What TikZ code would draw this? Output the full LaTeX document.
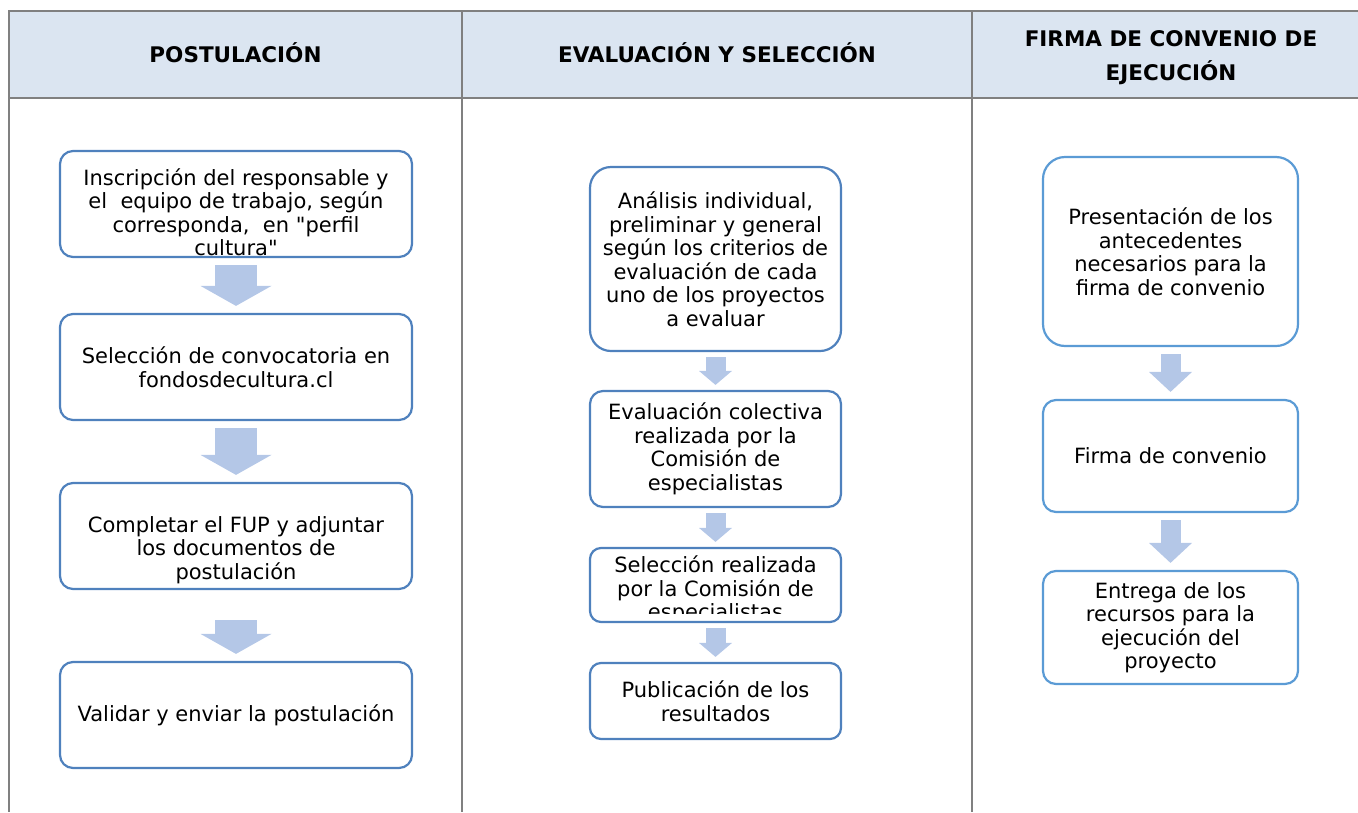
\documentclass[tikz,border=0pt]{standalone}
\usepackage{fontspec}
\setmainfont{DejaVu Sans}[Ligatures=TeXOff]
\usetikzlibrary{arrows.meta}
\definecolor{cabecera}{HTML}{DBE5F1}
\definecolor{rejilla}{HTML}{808080}
\definecolor{azul}{HTML}{4F81BD}
\definecolor{azulclaro}{HTML}{5B9BD5}
\definecolor{flechaazul}{HTML}{B4C7E7}
\tikzset{
  tabla/.style={rejilla, line width=1.3pt},
  titulo/.style={font=\fontsize{21.5}{34}\selectfont\bfseries, align=center, inner sep=0pt},
  paso/.style={draw=azul, line width=2.2pt, fill=white, rounded corners=13pt, inner sep=0pt, align=center,
    font=\fontsize{21}{23.5}\selectfont},
  texto/.style={align=center, inner sep=0pt, font=\fontsize{21}{23.5}\selectfont},
  flechaA/.style={flechaazul, line width=42pt, shorten <=7pt, shorten >=7pt,
    -{Triangle[width=71pt,length=20pt,line width=0pt]}},
  flechaB/.style={flechaazul, line width=20pt, shorten <=5pt, shorten >=5pt,
    -{Triangle[width=33pt,length=14pt,line width=0pt]}},
  flechaC/.style={flechaazul, line width=20pt, shorten <=7pt, shorten >=7pt,
    -{Triangle[width=43pt,length=20pt,line width=0pt]}},
}
\begin{document}
\begin{tikzpicture}[x=1pt,y=-1pt]
  \useasboundingbox (0,0) rectangle (1358,812);
  % tabla
  \fill[cabecera] (9,11) rectangle (1358,98);
  \draw[tabla] (1358,11) -- (9,11) -- (9,812);
  \draw[tabla] (9,98) -- (1358,98);
  \draw[tabla] (462,11) -- (462,812);
  \draw[tabla] (972,11) -- (972,812);
  \node[titulo] (h1) at (235.5,53) {POSTULACIÓN};
  \node[titulo] (h2) at (717,53) {EVALUACIÓN Y SELECCIÓN};
  \node[titulo] (h3) at (1171,58) {FIRMA DE CONVENIO DE\\EJECUCIÓN};

  % postulacion
  \node[paso, minimum width=352, minimum height=106] (p1) at (236,204) {};
  \node[texto] (p1t) at ([yshift=-8pt]p1.center) {Inscripción del responsable y\\el\ \ equipo de trabajo, según\\corresponda,\ \ en "perfil\\cultura"};
  \node[paso, minimum width=352, minimum height=106] (p2) at (236,367) {Selección de convocatoria en\\fondosdecultura.cl};
  \node[paso, minimum width=352, minimum height=106] (p3) at (236,536) {};
  \node[texto] (p3t) at ([yshift=-14pt]p3.center) {Completar el FUP y adjuntar\\los documentos de\\postulación};
  \node[paso, minimum width=352, minimum height=106] (p4) at (236,715) {Validar y enviar la postulación};
  \draw[flechaA] (p1) -- (p2);
  \draw[flechaA] (p2) -- (p3);
  \draw[flechaA, shorten <=30pt] (p3) -- (p4);

  % evaluacion y seleccion
  \node[paso, rounded corners=21pt, minimum width=251, minimum height=184] (e1) at (715.5,259) {Análisis individual,\\preliminar y general\\según los criterios de\\evaluación de cada\\uno de los proyectos\\a evaluar};
  \node[paso, minimum width=251, minimum height=116] (e2) at (715.5,449) {Evaluación colectiva\\realizada por la\\Comisión de\\especialistas};
  \node[paso, rounded corners=11pt, minimum width=251, minimum height=74] (e3) at (715.5,585) {};
  \begin{scope}
    \clip ([xshift=2pt,yshift=-2pt]e3.north west) rectangle ([xshift=-2pt,yshift=10pt]e3.south east);
    \node[texto] (e3t) at ([yshift=-5pt]e3.center) {Selección realizada\\por la Comisión de\\especialistas};
  \end{scope}
  \node[paso, rounded corners=11pt, minimum width=251, minimum height=76] (e4) at (715.5,701) {Publicación de los\\resultados};
  \draw[flechaB] (e1) -- (e2);
  \draw[flechaB] (e2) -- (e3);
  \draw[flechaB] (e3) -- (e4);

  % firma de convenio
  \node[paso, draw=azulclaro, rounded corners=22pt, minimum width=255, minimum height=189] (f1) at (1170.5,251.5) {Presentación de los\\antecedentes\\necesarios para la\\firma de convenio};
  \node[paso, draw=azulclaro, minimum width=255, minimum height=112] (f2) at (1170.5,456) {Firma de convenio};
  \node[paso, draw=azulclaro, minimum width=255, minimum height=113] (f3) at (1170.5,627.5) {Entrega de los\\recursos para la\\ejecución del\\proyecto};
  \draw[flechaC] (f1) -- (f2);
  \draw[flechaC] (f2) -- (f3);
\end{tikzpicture}
\end{document}
